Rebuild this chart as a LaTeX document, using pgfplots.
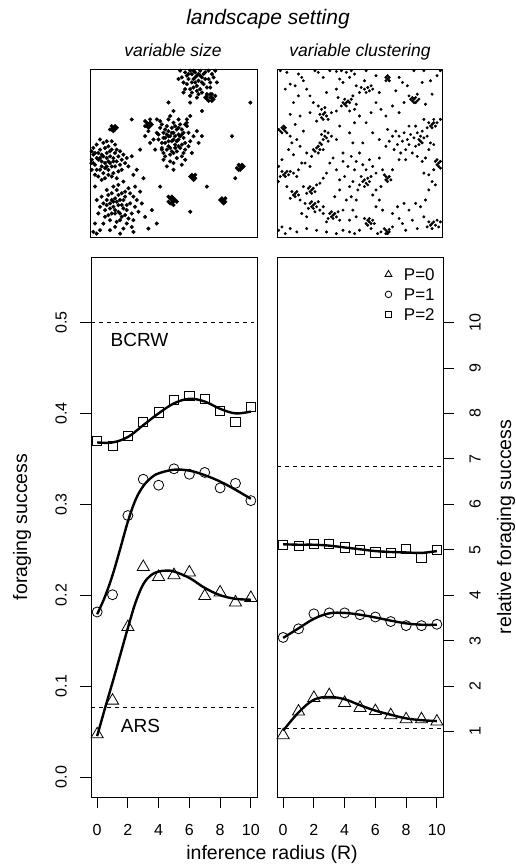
\documentclass[border=0pt]{standalone}
\usepackage{pgfplots}
\pgfplotsset{compat=1.18}
\usepackage{fontspec}
\setmainfont{Liberation Sans}
\pgfplotsset{
  mainax/.style={scale only axis, width=166pt, height=540pt,
    xmin=-0.4, xmax=10.4,
    xtick={0,2,4,6,8,10}, xticklabels={0,2,4,6,8,10},
    tick align=outside, major tick length=11pt,
    tick style={black, line width=0.8pt},
    axis line style={line width=0.9pt},
    xtick pos=left,
    ticklabel style={font=\fontsize{16}{16}\selectfont},
    xticklabel style={anchor=center},
    xticklabel shift=22pt,
    yticklabel style={rotate=90, anchor=center},
    clip=false,
  },
  land/.style={scale only axis, xmin=0, xmax=100, ymin=0, ymax=100,
    xtick=\empty, ytick=\empty, axis line style={line width=0.9pt}},
  fit/.style={black, line width=2.4pt, smooth, tension=0.6},
  tri/.style={only marks, mark=triangle, mark size=7pt, mark options={line width=0.8pt, solid}},
  cir/.style={only marks, mark=o, mark size=5pt, mark options={line width=0.8pt, solid}},
  sqr/.style={only marks, mark=square, mark size=4.6pt, mark options={line width=0.8pt, solid}},
  dot/.style={only marks, mark=*, mark size=1.85pt},
}
\begin{document}
\begin{tikzpicture}
\path[use as bounding box] (0pt,0pt) rectangle (515pt,867pt);

% ---------------- left main panel ----------------
\begin{axis}[mainax, at={(91pt,70pt)}, anchor=south west,
  ymin=-0.022, ymax=0.572, ytick={0,0.1,0.2,0.3,0.4,0.5},
  yticklabels={0.0,0.1,0.2,0.3,0.4,0.5}, ytick pos=left, yticklabel shift=19pt]
\addplot[black, line width=0.8pt, dash pattern=on 4pt off 4pt] coordinates {(-0.4,0.5)(10.2,0.5)};
\addplot[black, line width=0.8pt, dash pattern=on 4pt off 4pt] coordinates {(-0.4,0.0769)(10.2,0.0769)};
\addplot[fit] coordinates {(0,0.045)(0.5,0.075)(1,0.104)(1.5,0.134)(2,0.164)(2.5,0.192)(3,0.212)(3.5,0.222)(4,0.226)(4.5,0.227)(5,0.226)(6,0.219)(7,0.208)(8,0.2)(9,0.196)(10,0.195)};
\addplot[fit] coordinates {(0,0.179)(0.5,0.198)(1,0.222)(1.5,0.251)(2,0.281)(2.5,0.305)(3,0.32)(3.5,0.329)(4,0.334)(5,0.338)(6,0.337)(7,0.332)(8,0.325)(9,0.316)(10,0.306)};
\addplot[fit] coordinates {(0,0.368)(1,0.368)(2,0.374)(3,0.387)(4,0.400)(5,0.411)(6,0.416)(7,0.413)(8,0.405)(9,0.400)(10,0.402)};
\addplot[tri] coordinates {(0,0.047)(1,0.084)(2,0.165)(3,0.231)(4,0.220)(5,0.222)(6,0.225)(7,0.199)(8,0.203)(9,0.192)(10,0.197)};
\addplot[cir] coordinates {(0,0.1815)(1,0.2005)(2,0.2876)(3,0.3275)(4,0.321)(5,0.339)(6,0.333)(7,0.335)(8,0.318)(9,0.323)(10,0.304)};
\addplot[sqr] coordinates {(0,0.370)(1,0.364)(2,0.375)(3,0.391)(4,0.401)(5,0.415)(6,0.419)(7,0.416)(8,0.403)(9,0.391)(10,0.407)};
\end{axis}

% ---------------- right main panel ----------------
\begin{axis}[mainax, at={(277pt,70pt)}, anchor=south west,
  ymin=-0.44, ymax=11.44, ytick={1,2,3,4,5,6,7,8,9,10},
  yticklabels={1,2,3,4,5,6,7,8,9,10}, ytick pos=right, yticklabel pos=right, yticklabel shift=21pt,
  legend style={draw=none, fill=none, at={(0.975,0.985)}, anchor=north east,
    font=\fontsize{17}{17}\selectfont, row sep=3pt, column sep=11pt,
    nodes={inner sep=1pt, text height=12pt, text depth=3pt}},
  legend cell align=left]
\addplot[black, line width=0.8pt, dash pattern=on 4pt off 4pt, forget plot] coordinates {(-0.4,6.84)(10.4,6.84)};
\addplot[black, line width=0.8pt, dash pattern=on 4pt off 4pt, forget plot] coordinates {(-0.4,1.07)(10.4,1.07)};
\addplot[fit, forget plot] coordinates {(0,5.12)(1,5.11)(2,5.11)(3,5.09)(4,5.05)(5,5.01)(6,4.97)(7,4.95)(8,4.94)(9,4.93)(10,4.97)};
\addplot[fit, forget plot] coordinates {(0,3.06)(1,3.27)(2,3.48)(3,3.6)(4,3.61)(5,3.57)(6,3.51)(7,3.44)(8,3.38)(9,3.35)(10,3.35)};
\addplot[fit, forget plot] coordinates {(0,1.02)(1,1.42)(2,1.7)(3,1.76)(4,1.71)(5,1.58)(6,1.46)(7,1.37)(8,1.29)(9,1.25)(10,1.23)};
\addplot[tri, legend image code/.code={\draw[mark size=4pt, line width=0.7pt] plot[mark=triangle] coordinates {(0.2cm,0.05cm)};}]
  coordinates {(0,0.92)(1,1.44)(2,1.74)(3,1.80)(4,1.63)(5,1.52)(6,1.45)(7,1.36)(8,1.27)(9,1.27)(10,1.22)};
\addlegendentry{P=0}
\addplot[cir, legend image code/.code={\draw[mark size=3.3pt, line width=0.7pt] plot[mark=o] coordinates {(0.2cm,0.05cm)};}]
  coordinates {(0,3.07)(1,3.26)(2,3.59)(3,3.61)(4,3.61)(5,3.57)(6,3.52)(7,3.42)(8,3.33)(9,3.33)(10,3.36)};
\addlegendentry{P=1}
\addplot[sqr, legend image code/.code={\draw[mark size=3pt, line width=0.7pt] plot[mark=square] coordinates {(0.2cm,0.05cm)};}]
  coordinates {(0,5.11)(1,5.09)(2,5.12)(3,5.12)(4,5.05)(5,5.0)(6,4.94)(7,4.93)(8,5.02)(9,4.82)(10,5.0)};
\addlegendentry{P=2}
\end{axis}

% ---------------- landscape: variable size ----------------
\begin{axis}[land, at={(90pt,630pt)}, anchor=south west, width=167pt, height=168pt]
\addplot[dot] coordinates {
(50,58)(47,60)(53,61)(45,56)(55,55)(48,53)(52,64)(44,62)(56,59)(50,50)(46,66)(54,67)(41,58)(59,62)(49,62)(51,55)(47,57)(53,58)(43,53)(57,52)(50,68)(45,64)(55,64)(48,49)(52,51)(40,62)(60,57)(46,52)(54,53)(49,65)(51,60)(44,59)(56,62)(42,65)(58,66)(48,45)(52,47)(38,58)(62,60)(47,70)(53,70)(45,48)(55,48)(43,56)(57,56)(50,62)(49,57)(51,53)(46,61)(54,60)(47,63)(53,65)(44,50)(56,50)(41,61)(59,54)(50,44)(48,72)(36,56)(64,63)(42,69)(58,70)(39,52)(61,50)(50,75)(46,42)(55,43)(35,63)(65,56)(44,46)(57,46)(48,60)(52,57)(47,54)(53,54)(49,51)(51,66)(45,59)(55,61)(43,67)(57,67)(67,60)(33,60)(50,40)(60,72)(40,70)
(5,46)(8,48)(11,45)(14,47)(3,43)(7,42)(10,50)(13,42)(16,45)(2,49)(6,52)(9,44)(12,48)(15,50)(4,40)(8,38)(11,40)(17,48)(1,46)(5,50)(9,53)(13,52)(18,43)(3,37)(7,45)(10,42)(14,38)(19,46)(2,53)(6,47)(12,44)(15,42)(4,55)(8,56)(11,54)(16,52)(20,49)(1,40)(5,36)(9,35)(13,36)(17,39)(21,44)(3,50)(7,49)(10,47)(12,51)(14,45)(6,40)(9,41)(18,51)(22,47)(1,51)(4,47)(15,55)(11,37)(7,34)(2,44)(19,40)(23,42)(13,57)(6,58)(10,57)(25,48)(16,35)(0.8,44)
(17,19)(14,21)(20,22)(12,17)(22,16)(15,14)(19,12)(10,22)(24,20)(17,25)(13,26)(21,27)(9,16)(25,14)(16,9)(8,20)(26,24)(14,18)(20,17)(18,22)(11,13)(23,11)(15,23)(19,26)(7,24)(27,18)(12,10)(22,8)(17,15)(16,28)(10,19)(24,26)(13,14)(21,13)(18,10)(6,18)(28,22)(15,6)(20,5)(9,12)(26,10)(14,30)(11,25)(23,29)(17,31)(5,14)(29,15)(16,21)(19,19)(13,22)(21,24)(12,20)(22,19)(15,16)(18,14)(8,8)(25,6)(30,27)(4,22)(10,28)(27,30)(20,33)(31,20)(3,8)(6,4)(12,4)(18,2)(26,3)(2,3)(33,12)
(64,96)(61,97)(67,95)(59,94)(69,98)(63,92)(66,99)(57,98)(71,94)(62,89)(65,93)(60,99)(68,91)(55,95)(73,97)(64,87)(58,91)(70,89)(66,96)(62,94)(61,92)(67,92)(63,98)(59,97)(72,92)(56,92)(64,90)(68,97)(60,88)(74,95)(65,85)(57,88)(71,99)(54,99)(66,88)(69,94)(63,95)(58,96)(61,86)(67,86)(75,99)(53,94)(64,83)(60,84)(70,85)(76,92)(62,99)(65,97)(72,89)(56,86)(60,80)(73,83)
(72,83)(70,84)(73,85)(71,81)(74,82)(70,82)(72,85)(73,81)(69,83)(75,84)
(14,65)(13,66)(15,64)(12,64)(15,66)(14,63)(16,65)(13,64)
(35,67)(34,68)(36,66)(33,66)(36,68)(35,65)(37,67)(34,66)(36,70)(33,69)
(90,42)(89,43)(91,41)(88,41)(91,43)(90,40)(92,42)(89,40)
(62,36)(61,37)(63,35)(60,36)(63,37)(62,34)(61,35)
(49,22)(48,23)(50,21)(47,21)(50,23)(49,20)(51,22)(48,20)(47,24)(50,19)(52,21)(49,24)
(80,22)(79,23)(81,21)(80,20)(78,22)(81,23)(79,21)
(26,37)(43,52)(32,35)(58,68)(67,75)(47,80)(30,52)(87,35)(4,2)(35,5)(37,16)(60,15)(70,30)(42,30)(25,70)(85,60)(96,80)(3,30)(40,8)(28,40)
};
\end{axis}

% ---------------- landscape: variable clustering ----------------
\begin{axis}[land, at={(277pt,630pt)}, anchor=south west, width=165pt, height=168pt]
\addplot[dot, mark size=1.3pt] coordinates {
(2,99)(6,98)(13,97)(15,95)(16,93)(8,91)(11,90)(5,88)(32,99)(36,98.5)(39,99)(42,98)(45,99)(47,97)(38,94)(40,92)(44,95)(48,90)(51,89)(53,88)(55,89)(56,87)(57,90)(54,86)(58,88)(50,86)(46,84)(53,93)(54,99)(60,96)(66,95)(67,94)(68,95)(66,93)(68,93)(67,96)(74,95)(76,92)(83,99)(89,99)(93,93)(97,96)(99,99)(25,98)(28,95)(23,99)
(83,82)(82,81)(84,83)(83,80)(85,81)(82,83)(84,80)(81,82)(86,82)(80,84)(85,85)(90,79)(94,85)
(42,80)(41,79)(43,81)(40,80)(42,78)(44,80)(41,82)(39,78)(45,82)(47,76)(48,79)(37,83)(36,75)(44,75)
(28,73)(27,71)(29,74)(26,73)(28,70)(30,72)(27,76)(25,78)(29,77)(31,70)(24,69)(22,80)(33,74)(20,74)
(4,64)(3,65)(5,63)(2,63)(4,66)(5,65)(3,62)(1,64)(6,62)(8,60)(11,67)(9,56)(12,58)(14,54)(7,52)(10,49)
(29,60)(28,58)(30,59)(27,61)(31,62)(29,63)(26,56)(25,54)(24,53)(26,52)(23,51)(25,50)(27,55)(22,52)(28,52)(31,57)(33,60)(21,48)(18,50)(17,44)(20,42)(15,44)(13,40)
(94,67)(93,66)(95,68)(96,66)(92,68)(94,65)(97,68)(91,65)(95,70)(99,70)(89,70)(88,63)
(72,63)(74,60)(77,62)(79,58)(81,61)(83,59)(85,62)(86,58)(87,60)(88,56)(87,57)(89,59)(86,55)(84,54)(80,55)(76,57)(73,55)(71,52)(75,50)(78,52)(82,50)(85,48)(88,45)(90,47)(92,52)(93,56)(95,55)(91,60)(78,46)(74,46)(70,60)(68,57)(67,64)(66,54)(80,66)(84,66)
(98,44)(97,43)(99,45)(96,45)(98,42)(99,41)(97,46)(95,40)(92,37)(89,38)(94,33)(96,31)(92,28)
(5,38)(4,37)(6,39)(3,39)(5,36)(7,37)(2,36)(8,39)(1,42)(3,46)(10,38)(12,36)(0.8,33)
(50,50)(45,48)(48,45)(43,42)(47,40)(52,43)(56,46)(54,40)(58,42)(60,38)(51,36)(53,34)(55,35)(52,33)(54,32)(56,33)(55,31)(50,31)(57,36)(53,30)(49,28)(46,33)(44,30)(41,36)(38,34)(36,40)(40,45)(62,47)(64,40)(63,30)(67,35)(66,34)(68,36)(67,33)(69,34)(66,36)(65,37)(70,40)(60,28)(58,25)(45,24)(42,22)(38,28)(35,24)(48,22)(40,50)(34,47)(32,44)(30,38)(28,35)(26,32)
(21,28)(20,27)(22,29)(19,29)(21,26)(23,27)(20,30)(18,26)(24,31)(11,26)(10,25)(12,27)(9,27)(11,24)(13,25)(8,23)(14,22)(16,30)(6,30)
(22,19)(21,18)(23,20)(20,20)(22,17)(24,18)(21,21)(19,17)(25,21)(23,15)(26,16)(17,20)(28,18)(18,12)(15,14)
(34,13)(33,12)(35,14)(32,14)(34,11)(36,12)(33,15)(31,11)(37,15)(30,9)(38,10)(28,14)(40,16)
(56,9)(55,10)(57,8)(54,8)(56,11)(58,10)(55,7)(53,11)(59,8)(57,5)(67,3)(66,4)(68,3)(67,2)(66,2)(68,4.5)(65,5)(70,6)(63,3)(61,2)(50,4)(47,2)(44,3)(40,4)(36,2)(30,3)(24,4)(18,5)(12,3)(8,5)(5,2)(3,6)(1,4)(94,8)(93,7)(95,9)(92,9)(96,7)(97,10)(91,6)(94,5)(98,6)(99,9)(89,12)(85,5)(82,10)(78,4)(76,8)(74,11)(87,18)(84,20)(90,22)(80,16)(77,20)(73,18)(70,14)(64,16)(60,18)(62,22)(46,16)(44,10)(48,12)
(10,80)(13,84)(18,88)(20,84)(60,80)(63,76)(66,72)(70,78)(74,74)(77,80)(50,72)(54,68)(57,74)(47,68)(44,62)(38,66)(36,58)(58,62)(62,58)(46,56)(52,56)(14,72)(8,73)(16,63)(36,88)(30,86)(62,86)(72,87)(79,90)(88,92)
};
\end{axis}

% ---------------- texts ----------------
\node[anchor=base, font=\fontsize{21}{21}\selectfont\itshape] at (268pt,842pt) {landscape setting};
\node[anchor=base, font=\fontsize{17.5}{17.5}\selectfont\itshape] at (173pt,810pt) {variable size};
\node[anchor=base, font=\fontsize{17.5}{17.5}\selectfont\itshape] at (360pt,810pt) {variable clustering};
\node[anchor=base, font=\fontsize{19.5}{19.5}\selectfont] at (272pt,7pt) {inference radius (R)};
\node[rotate=90, font=\fontsize{19.5}{19.5}\selectfont] at (22pt,340pt) {foraging success};
\node[rotate=90, font=\fontsize{19.5}{19.5}\selectfont] at (506pt,340pt) {relative foraging success};
\node[anchor=base, font=\fontsize{19}{19}\selectfont] at (139.5pt,520.3pt) {BCRW};
\node[anchor=base, font=\fontsize{19}{19}\selectfont] at (140.5pt,134.3pt) {ARS};
\end{tikzpicture}
\end{document}
